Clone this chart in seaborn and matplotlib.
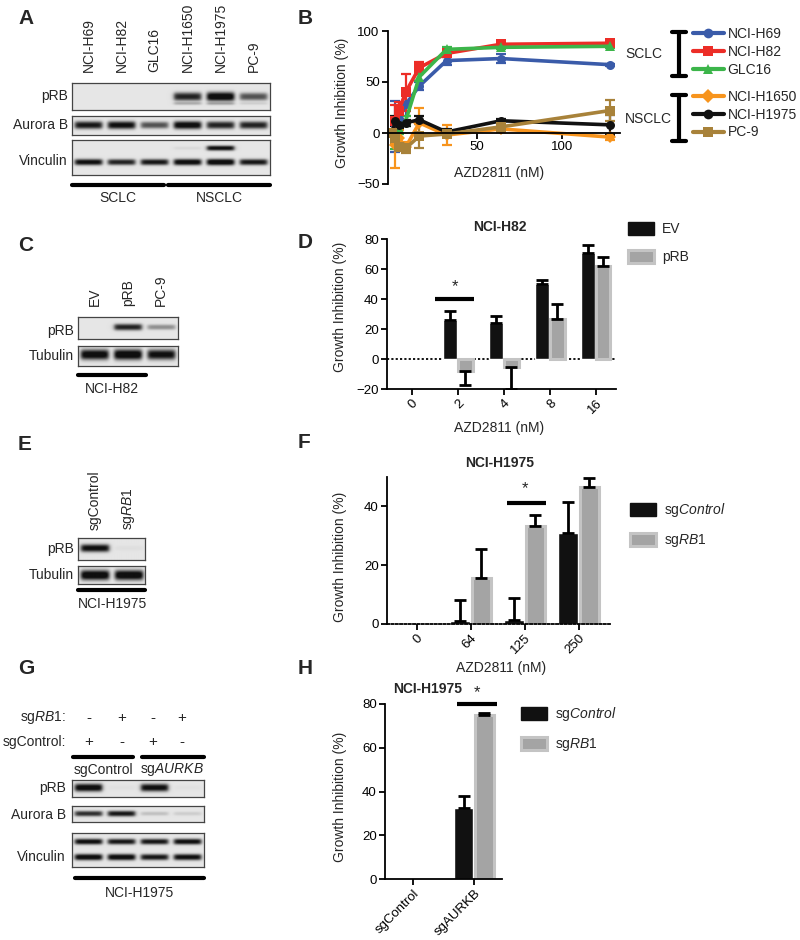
import numpy as np
import pandas as pd
import matplotlib
matplotlib.use('Agg')
import matplotlib.pyplot as plt
from matplotlib.lines import Line2D
from matplotlib.patches import Patch
import seaborn as sns

W, H = 800, 940

# ---------------- data ----------------
# panel A blot
lanes_a = ['NCI-H69', 'NCI-H82', 'GLC16', 'NCI-H1650', 'NCI-H1975', 'PC-9']
prb_a = [0.0, 0.0, 0.0, 0.8, 1.0, 0.6]
prb_low_a = [0.0, 0.0, 0.0, 0.25, 0.3, 0.1]
aurkb_a = [0.85, 0.9, 0.6, 0.95, 0.8, 0.8]
vinc_a = [0.9, 0.8, 0.85, 0.95, 1.0, 0.85]
vinc_hi_a = [0.0, 0.0, 0.0, 0.05, 0.9, 0.0]

# panel B dose response
doses_b = [0, 2, 4, 8, 16, 32, 64, 128]
lines_b = ['NCI-H69', 'NCI-H82', 'GLC16', 'NCI-H1650', 'NCI-H1975', 'PC-9']
h69 = [0, 6, 14, 28, 46, 71, 73, 67]
h69_err = [0, 25, 8, 11, 4, 4, 4, 1]
h82 = [0, 12, 22, 40, 64, 78, 87, 88]
h82_err = [0, 15, 8, 18, 6, 3, 2, 2]
glc16 = [0, -8, 5, 12, 55, 82, 84, 85]
glc16_err = [0, 8, 6, 5, 4, 2, 2, 2]
h1650 = [0, -12, -5, -14, 10, -2, 4, -4]
h1650_err = [0, 22, 8, 5, 15, 10, 3, 3]
h1975 = [0, 12, 8, 10, 13, 1, 12, 8]
h1975_err = [0, 5, 3, 3, 4, 3, 2, 10]
pc9 = [0, -5, -14, -15, -3, -1, 6, 22]
pc9_err = [0, 5, 4, 5, 12, 3, 3, 10]
colors_b = ['#3A5BA9', '#EC2D27', '#3CB54A', '#F7941D', '#111111', '#A8823A']
markers_b = ['o', 's', '^', 'D', 'o', 's']

# panel C blot
lanes_c = ['EV', 'pRB', 'PC-9']
prb_c = [0.0, 0.8, 0.35]
tub_c = [0.95, 1.0, 0.9]

# panel D
doses_d = ['0', '2', '4', '8', '16']
groups_d = ['EV', 'pRB']
ev_d = [0, 26, 24, 50, 71]
ev_d_err = [0, 6, 5, 3, 5]
prb_d = [0, -8, -5, 27, 62]
prb_d_err = [0, 9, 15, 10, 6]

# panel E blot
lanes_e = ['sgControl', 'sg$\\mathit{RB1}$']
prb_e = [0.9, 0.03]
tub_e = [1.0, 1.0]

# panel F
doses_f = ['0', '64', '125', '250']
groups_f = ['sgControl', 'sgRB1']
ctrl_f = [0, 1, 1.5, 31]
ctrl_f_err = [0, 7, 7.5, 10.5]
rb1_f = [0, 15.5, 33.5, 46.5]
rb1_f_err = [0, 10, 3.5, 3]

# panel G blot
sgrb1_g = ['-', '+', '-', '+']
sgctrl_g = ['+', '-', '+', '-']
prb_g = [0.95, 0.02, 0.9, 0.02]
aurkb_g = [0.75, 0.85, 0.15, 0.1]
vinc_hi_g = [0.9, 0.85, 0.85, 0.9]
vinc_lo_g = [0.95, 0.95, 0.85, 0.9]

# panel H
cats_h = ['sgControl', 'sgAURKB']
ctrl_h = [0, 32.5]
ctrl_h_err = [0, 5.5]
rb1_h = [0, 75]
rb1_h_err = [0, 1]

# ---------------- style ----------------
sns.set_style('ticks')
plt.rcParams.update({
    'font.size': 10,
    'mathtext.fontset': 'custom',
    'mathtext.rm': 'Liberation Sans',
    'mathtext.it': 'Liberation Sans:italic',
    'mathtext.bf': 'Liberation Sans:bold',
})
plt.rcParams['font.family'] = ['Liberation Sans', 'DejaVu Sans']

fig = plt.figure(figsize=(8, 9.4), dpi=100)


def ax_px(l, t, r, b):
    return fig.add_axes([l / W, 1 - b / H, (r - l) / W, (b - t) / H])


def txt(x, y, s, **kw):
    kw.setdefault('fontsize', 10)
    return fig.text(x / W, 1 - y / H, s, **kw)


def hline(x0, x1, y, lw=3):
    fig.add_artist(Line2D([x0 / W, x1 / W], [1 - y / H, 1 - y / H],
                          color='black', lw=lw, transform=fig.transFigure))


def vline(x, y0, y1, lw=3):
    fig.add_artist(Line2D([x / W, x / W], [1 - y0 / H, 1 - y1 / H],
                          color='black', lw=lw, transform=fig.transFigure))


def blot(l, t, r, b, bands, n):
    """bands: list of (intensities, center px from top, sigma px)"""
    ax = ax_px(l, t, r, b)
    s = 4
    h, w = int((b - t) * s), int((r - l) * s)
    yy, xx = np.mgrid[0:h, 0:w]
    lw_ = w / n
    dark = np.zeros((h, w))
    for inten, cy, sig in bands:
        for i, v in enumerate(inten):
            if v <= 0:
                continue
            cx = (i + 0.5) * lw_
            hx = 1 / (1 + np.exp((np.abs(xx - cx) - lw_ * 0.41) / (lw_ * 0.035)))
            sg = sig * s * (0.6 + 0.4 * v)
            vy = np.exp(-(np.abs(yy - cy * s) / sg) ** 2.5)
            dark = np.maximum(dark, np.clip(1.15 * v * hx * vy, 0, 1))
    img = 0.9 - dark * 0.84
    ax.imshow(img, cmap='gray', vmin=0, vmax=1, aspect='auto', interpolation='bilinear')
    ax.set_xticks([])
    ax.set_yticks([])
    for sp in ax.spines.values():
        sp.set_color('#444444')
        sp.set_linewidth(0.9)
    return ax


def lane_labels(l, r, y, labels):
    n = len(labels)
    for i, lab in enumerate(labels):
        x = l + (i + 0.5) * (r - l) / n
        txt(x, y, lab, rotation=90, ha='center', va='bottom')


def style_axes(ax):
    sns.despine(ax=ax)
    for s in ['left', 'bottom']:
        ax.spines[s].set_linewidth(1.3)
        ax.spines[s].set_color('black')
    ax.tick_params(direction='out', length=4, width=1.3, labelsize=9.5, colors='black', pad=2)
    ax.set_facecolor('none')


def bar_panel(ax, cats, groups, series, errs, width, gap):
    rows = []
    for g, vals in zip(groups, series):
        for c, v in zip(cats, vals):
            rows.append({'cat': c, 'group': g, 'gi': v})
    df = pd.DataFrame(rows)
    sns.barplot(data=df, x='cat', y='gi', hue='group', order=cats, hue_order=groups,
                palette=['#111111', '#A4A4A4'], saturation=1, errorbar=None,
                width=width, gap=gap, ax=ax, legend=False)
    for k, (cont, er) in enumerate(zip(ax.containers, errs)):
        for bar, e in zip(cont, er):
            v = bar.get_height()
            if v == 0:
                bar.set_visible(False)
            if k == 1:
                bar.set_edgecolor('#C4C4C4')
                bar.set_linewidth(2.2)
            if e > 0:
                x = bar.get_x() + bar.get_width() / 2
                yerr = [[0], [e]] if v >= 0 else [[e], [0]]
                ax.errorbar(x, v, yerr=yerr, fmt='none', ecolor='black',
                            elinewidth=2, capsize=4, capthick=2)
    ax.set_xlabel('')
    ax.set_ylabel('')


def bar_legend(x, y, labels, spacing):
    handles = [Patch(facecolor='#111111', edgecolor='#111111'),
               Patch(facecolor='#A4A4A4', edgecolor='#C4C4C4', linewidth=2.2)]
    fig.legend(handles, labels, loc='upper left', bbox_to_anchor=(x / W, 1 - y / H),
               frameon=False, fontsize=10, handlelength=1.9, handleheight=1.1,
               handletextpad=0.55, labelspacing=spacing, borderpad=0, borderaxespad=0)


# ---------------- panel letters ----------------
for lab, x, y in [('A', 18, 18), ('B', 298, 18), ('C', 18, 245), ('D', 298, 243),
                  ('E', 18, 445), ('F', 298, 443), ('G', 18, 668), ('H', 298, 668)]:
    txt(x, y, lab, fontsize=15, fontweight='bold', va='center', ha='left')

# ---------------- A ----------------
blot(72, 83, 270, 110, [(prb_a, 13.5, 4.5), (prb_low_a, 20, 2.5)], 6)
blot(72, 116, 270, 135, [(aurkb_a, 9, 4)], 6)
blot(72, 140, 270, 175, [(vinc_a, 22, 3.2), (vinc_hi_a, 8, 2.6)], 6)
lane_labels(72, 270, 72, lanes_a)
txt(68, 96, 'pRB', ha='right', va='center')
txt(68, 125, 'Aurora B', ha='right', va='center')
txt(68, 161, 'Vinculin', ha='right', va='center')
hline(72, 164, 185)
hline(168, 270, 185)
txt(118, 198, 'SCLC', ha='center', va='center')
txt(219, 198, 'NSCLC', ha='center', va='center')

# ---------------- B ----------------
axb = ax_px(388, 31, 620, 184)
rows = []
all_vals = [h69, h82, glc16, h1650, h1975, pc9]
all_errs = [h69_err, h82_err, glc16_err, h1650_err, h1975_err, pc9_err]
for name, vals in zip(lines_b, all_vals):
    for d, v in zip(doses_b, vals):
        rows.append({'dose': d, 'gi': v, 'line': name})
dfb = pd.DataFrame(rows)
for name, vals, er, c in zip(lines_b, all_vals, all_errs, colors_b):
    axb.errorbar(doses_b, vals, yerr=er, fmt='none', ecolor=c, elinewidth=1.6,
                 capsize=3.5, capthick=1.6)
sns.lineplot(data=dfb, x='dose', y='gi', hue='line', style='line', hue_order=lines_b,
             style_order=lines_b, palette=colors_b, markers=markers_b, dashes=False,
             lw=2.6, markersize=6.5, markeredgewidth=0, legend=False, ax=axb)
style_axes(axb)
axb.spines['bottom'].set_position(('data', 0))
axb.set_xlim(-2.4, 134)
axb.set_ylim(-50, 100)
axb.set_xticks([50, 100])
axb.set_yticks([-50, 0, 50, 100])
axb.set_xlabel('AZD2811 (nM)', fontsize=10)
axb.set_ylabel('Growth Inhibition (%)', fontsize=10)
axb.xaxis.set_label_coords(0.48, 0.12)
axb.yaxis.set_label_coords(-0.17, 0.53)

for idx, top in [((0, 3), 27), ((3, 6), 90)]:
    hs = [Line2D([0], [0], color=colors_b[i], lw=3, marker=markers_b[i], markersize=7,
                 markeredgewidth=0) for i in range(*idx)]
    fig.legend(hs, lines_b[idx[0]:idx[1]], loc='upper left',
               bbox_to_anchor=(693 / W, 1 - top / H), frameon=False, fontsize=10,
               handlelength=2.2, handletextpad=0.3, labelspacing=0.27,
               borderpad=0, borderaxespad=0)
vline(679, 32, 76)
hline(672, 686, 32)
hline(672, 686, 76)
vline(679, 95, 141)
hline(672, 686, 95)
hline(672, 686, 141)
txt(644, 54, 'SCLC', ha='center', va='center')
txt(648, 119, 'NSCLC', ha='center', va='center')

# ---------------- C ----------------
blot(78, 317, 178, 339, [(prb_c, 10, 3.5)], 3)
blot(78, 346, 178, 366, [(tub_c, 9, 5)], 3)
lane_labels(78, 178, 306, lanes_c)
txt(74, 331, 'pRB', ha='right', va='center')
txt(74, 356, 'Tubulin', ha='right', va='center')
hline(78, 146, 375)
txt(112, 389, 'NCI-H82', ha='center', va='center')

# ---------------- D ----------------
axd = ax_px(387, 239, 616, 389)
bar_panel(axd, doses_d, groups_d, [ev_d, prb_d], [ev_d_err, prb_d_err], 0.66, 0.06)
style_axes(axd)
axd.axhline(0, color='black', lw=1.3, ls=(0, (1.2, 1.2)), zorder=0)
axd.set_xlim(-0.54, 4.44)
axd.set_ylim(-20, 80)
axd.set_yticks([-20, 0, 20, 40, 60, 80])
axd.set_xticks(range(len(doses_d)))
axd.set_xticklabels(doses_d, rotation=45, ha='right', rotation_mode='anchor')
axd.set_xlabel('AZD2811 (nM)', fontsize=10)
axd.set_ylabel('Growth Inhibition (%)', fontsize=10)
axd.xaxis.set_label_coords(0.49, -0.21)
axd.yaxis.set_label_coords(-0.175, 0.55)
axd.plot([0.5, 1.35], [40, 40], color='black', lw=3, solid_capstyle='butt')
axd.text(0.93, 48, '*', ha='center', va='center', fontsize=12)
txt(500, 227, 'NCI-H82', ha='center', va='center', fontweight='bold')
bar_legend(628, 222, groups_d, 0.95)

# ---------------- E ----------------
blot(78, 538, 145, 560, [(prb_e, 10, 4)], 2)
blot(78, 566, 145, 584, [(tub_e, 9, 5)], 2)
lane_labels(78, 145, 530, lanes_e)
txt(74, 549, 'pRB', ha='right', va='center')
txt(74, 575, 'Tubulin', ha='right', va='center')
hline(78, 145, 590)
txt(112, 604, 'NCI-H1975', ha='center', va='center')

# ---------------- F ----------------
axf = ax_px(387, 477, 610, 624)
bar_panel(axf, doses_f, groups_f, [ctrl_f, rb1_f], [ctrl_f_err, rb1_f_err], 0.8, 0.1)
style_axes(axf)
axf.spines['bottom'].set_linestyle((0, (1.2, 1.2)))
axf.set_xlim(-0.55, 3.58)
axf.set_ylim(0, 50)
axf.set_yticks([0, 20, 40])
axf.set_xticks(range(len(doses_f)))
axf.set_xticklabels(doses_f, rotation=45, ha='right', rotation_mode='anchor')
axf.set_xlabel('AZD2811 (nM)', fontsize=10)
axf.set_ylabel('Growth Inhibition (%)', fontsize=10)
axf.xaxis.set_label_coords(0.51, -0.25)
axf.yaxis.set_label_coords(-0.18, 0.46)
axf.plot([1.67, 2.39], [41, 41], color='black', lw=3, solid_capstyle='butt')
axf.text(2.0, 46, '*', ha='center', va='center', fontsize=12)
txt(500, 463, 'NCI-H1975', ha='center', va='center', fontweight='bold')
bar_legend(630, 501, ['sg$\\mathit{Control}$', 'sg$\\mathit{RB1}$'], 0.95)

# ---------------- G ----------------
sign_x = [89, 122, 153, 182]
txt(66, 718, 'sg$\\mathit{RB1}$:', ha='right', va='center')
txt(66, 742, 'sgControl:', ha='right', va='center')
for x, a, c in zip(sign_x, sgrb1_g, sgctrl_g):
    txt(x, 718, a, ha='center', va='center', fontsize=11)
    txt(x, 742, c, ha='center', va='center', fontsize=11)
hline(73, 133, 757)
hline(142, 204, 757)
txt(103, 770, 'sgControl', ha='center', va='center')
txt(172, 770, 'sg$\\mathit{AURKB}$', ha='center', va='center')
blot(72, 780, 204, 797, [(prb_g, 7.5, 4)], 4)
blot(72, 806, 204, 822, [(aurkb_g, 7.5, 3)], 4)
blot(72, 833, 204, 867, [(vinc_hi_g, 8.5, 3), (vinc_lo_g, 24, 3.2)], 4)
txt(66, 788, 'pRB', ha='right', va='center')
txt(66, 815, 'Aurora B', ha='right', va='center')
txt(66, 857, 'Vinculin', ha='right', va='center')
hline(75, 204, 878)
txt(140, 893, 'NCI-H1975', ha='center', va='center')

# ---------------- H ----------------
axh = ax_px(385, 704, 502, 879)
bar_panel(axh, cats_h, groups_f, [ctrl_h, rb1_h], [ctrl_h_err, rb1_h_err], 0.68, 0.1)
style_axes(axh)
axh.set_xlim(-0.46, 1.46)
axh.set_ylim(0, 80)
axh.set_yticks([0, 20, 40, 60, 80])
axh.set_xticks(range(len(cats_h)))
axh.set_xticklabels(cats_h, rotation=45, ha='right', rotation_mode='anchor')
axh.set_ylabel('Growth Inhibition (%)', fontsize=10)
axh.yaxis.set_label_coords(-0.325, 0.47)
axh.plot([0.72, 1.38], [80, 80], color='black', lw=3, solid_capstyle='butt', clip_on=False)
axh.text(1.05, 85, '*', ha='center', va='center', fontsize=12, clip_on=False)
txt(428, 689, 'NCI-H1975', ha='center', va='center', fontweight='bold')
bar_legend(521, 705, ['sg$\\mathit{Control}$', 'sg$\\mathit{RB1}$'], 0.95)

fig.savefig('out.png', dpi=100, facecolor='white')
